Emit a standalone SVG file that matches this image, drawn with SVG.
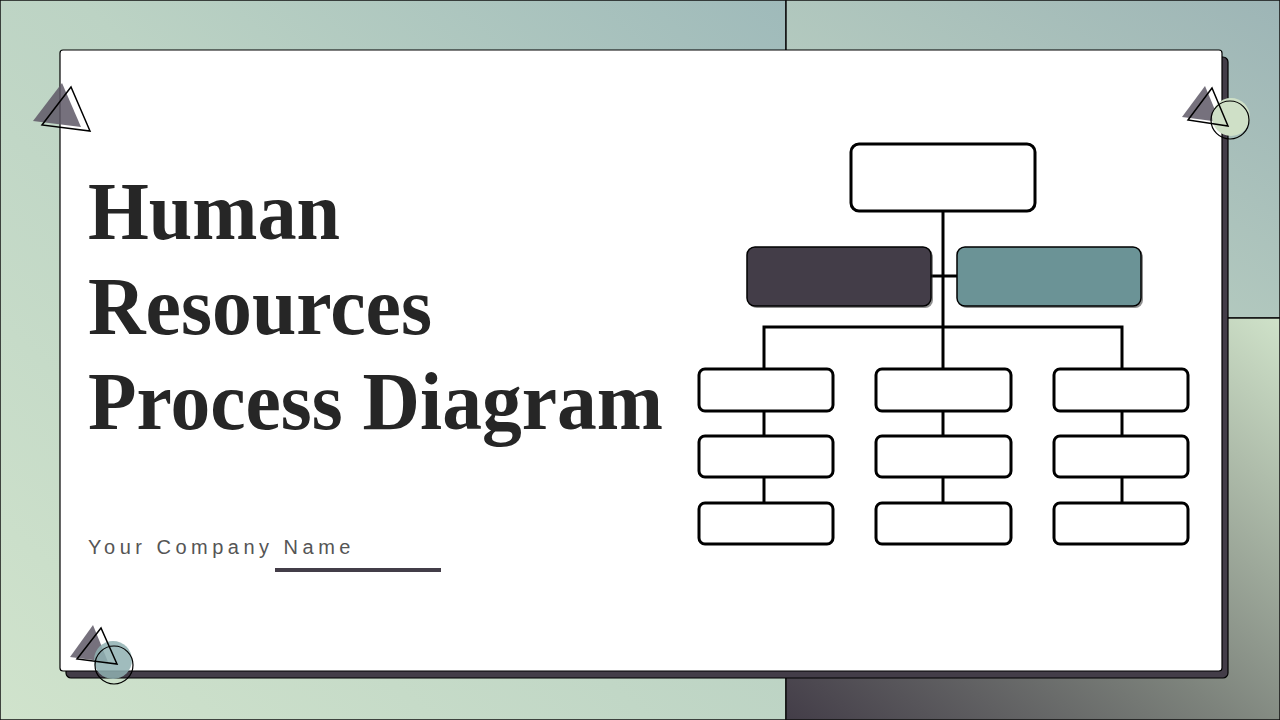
<svg xmlns="http://www.w3.org/2000/svg" width="1280" height="720" viewBox="0 0 1280 720">
  <defs>
    <linearGradient id="gLeft" x1="0" y1="1" x2="1" y2="0">
      <stop offset="0" stop-color="#d0e3cc"/>
      <stop offset="0.55" stop-color="#bcd3c4"/>
      <stop offset="1" stop-color="#9fbaba"/>
    </linearGradient>
    <linearGradient id="gTR" x1="0" y1="1" x2="1" y2="0">
      <stop offset="0" stop-color="#c3d8c5"/>
      <stop offset="1" stop-color="#9db5b6"/>
    </linearGradient>
    <linearGradient id="gBR" x1="0" y1="1" x2="1" y2="0">
      <stop offset="0" stop-color="#433d48"/>
      <stop offset="0.45" stop-color="#7d837c"/>
      <stop offset="1" stop-color="#cfe2c9"/>
    </linearGradient>
    <style>
      .panel { stroke: #111; stroke-width: 1.5; }
      .box { fill: #fff; stroke: #000; stroke-width: 3; }
      .conn { stroke: #000; stroke-width: 3; fill: none; }
      .title { font-family: "Liberation Serif", "Times New Roman", serif; font-weight: bold; font-size: 83px; fill: #262626; }
      .sub { font-family: "Liberation Sans", Arial, sans-serif; font-size: 20px; letter-spacing: 4.5px; fill: #555; }
      .tri { fill: #5e5866; fill-opacity: 0.85; }
      .triO { fill: none; stroke: #000; stroke-width: 1.5; }
      .circO { fill: none; stroke: #000; stroke-width: 1.2; }
    </style>
  </defs>

  <g id="background">
    <rect x="0" y="0" width="786" height="720" fill="url(#gLeft)" class="panel"/>
    <rect x="786" y="0" width="494" height="318" fill="url(#gTR)" class="panel"/>
    <rect x="786" y="318" width="494" height="402" fill="url(#gBR)" class="panel"/>
  </g>

  <g id="card">
    <rect x="66" y="57" width="1162" height="621" rx="5" fill="#433d48" stroke="#000" stroke-width="1.2"/>
    <rect x="60" y="50" width="1162" height="621" rx="3" fill="#fff" stroke="#000" stroke-width="1.2"/>
  </g>

  <g id="decor-top-left">
    <polygon class="tri" points="62,83 33,121 81,127"/>
    <polygon class="triO" points="71,87 42,125 90,131"/>
  </g>
  <g id="decor-top-right">
    <polygon class="tri" points="1205,86 1182,117 1220,122"/>
    <circle cx="1231" cy="117" r="19" fill="#cfe0c7"/>
    <polygon class="triO" points="1212,88 1188,120 1228,126"/>
    <circle class="circO" cx="1230" cy="120" r="19"/>
  </g>
  <g id="decor-bottom-left">
    <polygon class="tri" points="93,625 70,657 108,662"/>
    <circle cx="113" cy="660" r="19" fill="#8fb0b1" fill-opacity="0.85"/>
    <polygon class="triO" points="101,628 77,659 117,664"/>
    <circle class="circO" cx="114" cy="665" r="19"/>
  </g>

  <g id="title">
    <text class="title" x="88" y="239" textLength="252" lengthAdjust="spacingAndGlyphs">Human</text>
    <text class="title" x="88" y="334" textLength="344" lengthAdjust="spacingAndGlyphs">Resources</text>
    <text class="title" x="88" y="429" textLength="575" lengthAdjust="spacingAndGlyphs">Process Diagram</text>
  </g>

  <g id="company">
    <text class="sub" x="88" y="554">Your Company Name</text>
    <rect x="275" y="568" width="166" height="4" fill="#433d48"/>
  </g>

  <g id="connectors">
    <line class="conn" x1="943" y1="211" x2="943" y2="369"/>
    <line class="conn" x1="931" y1="276" x2="957" y2="276"/>
    <polyline class="conn" points="764,369 764,327 1122,327 1122,369"/>
    <line class="conn" x1="764" y1="411" x2="764" y2="436"/>
    <line class="conn" x1="764" y1="477" x2="764" y2="503"/>
    <line class="conn" x1="943" y1="411" x2="943" y2="436"/>
    <line class="conn" x1="943" y1="477" x2="943" y2="503"/>
    <line class="conn" x1="1122" y1="411" x2="1122" y2="436"/>
    <line class="conn" x1="1122" y1="477" x2="1122" y2="503"/>
  </g>

  <g id="node-top"><rect class="box" x="851" y="144" width="184" height="67" rx="8"/></g>
  <g id="node-dark">
    <rect x="749" y="249" width="184" height="59" rx="8" fill="#222" opacity="0.5"/>
    <rect x="747" y="247" width="184" height="59" rx="8" fill="#433d48" stroke="#000" stroke-width="1.5"/>
  </g>
  <g id="node-teal">
    <rect x="959" y="249" width="184" height="59" rx="8" fill="#222" opacity="0.5"/>
    <rect x="957" y="247" width="184" height="59" rx="8" fill="#6b9396" stroke="#000" stroke-width="1.5"/>
  </g>

  <g id="node-a1"><rect class="box" x="699" y="369" width="134" height="42" rx="6"/></g>
  <g id="node-a2"><rect class="box" x="699" y="436" width="134" height="41" rx="6"/></g>
  <g id="node-a3"><rect class="box" x="699" y="503" width="134" height="41" rx="6"/></g>
  <g id="node-b1"><rect class="box" x="876" y="369" width="135" height="42" rx="6"/></g>
  <g id="node-b2"><rect class="box" x="876" y="436" width="135" height="41" rx="6"/></g>
  <g id="node-b3"><rect class="box" x="876" y="503" width="135" height="41" rx="6"/></g>
  <g id="node-c1"><rect class="box" x="1054" y="369" width="134" height="42" rx="6"/></g>
  <g id="node-c2"><rect class="box" x="1054" y="436" width="134" height="41" rx="6"/></g>
  <g id="node-c3"><rect class="box" x="1054" y="503" width="134" height="41" rx="6"/></g>
</svg>
